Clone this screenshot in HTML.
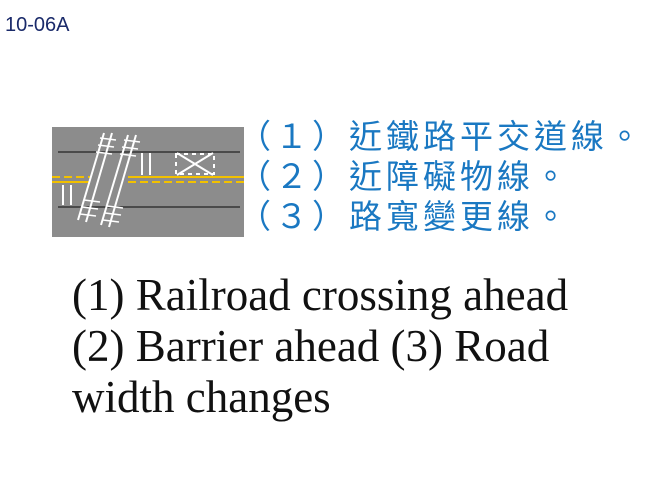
<!DOCTYPE html>
<html><head><meta charset="utf-8"><style>
body{margin:0;width:672px;height:504px;background:#fff;position:relative;overflow:hidden}
.t{position:absolute;left:5px;top:14px;font:20px "Liberation Sans",sans-serif;color:#1a2a6a}
.zh{position:absolute;left:238px;top:117px;font:33px/40px "Liberation Sans","Noto Sans CJK TC",sans-serif;color:#1a78c2;letter-spacing:4px;white-space:nowrap}
.en{position:absolute;left:72px;top:270px;font:45px/51px "Liberation Serif",serif;color:#111;white-space:nowrap}
</style></head><body>
<div class="t">10-06A</div>
<svg style="position:absolute;left:0;top:0" width="672" height="504">
<rect x="52" y="127" width="192" height="110" fill="#8c8c8c"/>
<line x1="58" y1="152" x2="240" y2="152" stroke="#222" stroke-width="1.2"/>
<line x1="58" y1="207" x2="240" y2="207" stroke="#222" stroke-width="1.2"/>
<line x1="52" y1="177" x2="90" y2="177" stroke="#f2c100" stroke-width="2" stroke-dasharray="8,4"/>
<line x1="52" y1="182" x2="90" y2="182" stroke="#f2c100" stroke-width="2"/>
<line x1="128" y1="177" x2="244" y2="177" stroke="#f2c100" stroke-width="2"/>
<line x1="128" y1="182" x2="244" y2="182" stroke="#f2c100" stroke-width="2" stroke-dasharray="8,4"/>
<g stroke="#fff" stroke-width="2">
<line x1="142" y1="153" x2="142" y2="175"/><line x1="150" y1="153" x2="150" y2="175"/>
<line x1="63" y1="185" x2="63" y2="205"/><line x1="71" y1="185" x2="71" y2="205"/>
<line x1="104" y1="133" x2="78" y2="220"/><line x1="112" y1="133" x2="86" y2="222"/>
<line x1="128" y1="135" x2="101" y2="225"/><line x1="136" y1="135" x2="109" y2="227"/>
</g>
<g stroke="#fff" stroke-width="1.5">
<line x1="100" y1="138" x2="116" y2="140"/><line x1="98" y1="145" x2="114" y2="147"/><line x1="96" y1="152" x2="112" y2="154"/>
<line x1="84" y1="200" x2="100" y2="202"/><line x1="82" y1="207" x2="98" y2="209"/><line x1="80" y1="214" x2="96" y2="216"/>
<line x1="124" y1="140" x2="140" y2="142"/><line x1="122" y1="147" x2="138" y2="149"/><line x1="120" y1="154" x2="136" y2="156"/>
<line x1="107" y1="206" x2="123" y2="208"/><line x1="105" y1="213" x2="121" y2="215"/><line x1="103" y1="220" x2="119" y2="222"/>
</g>
<g stroke="#fff" stroke-width="2" fill="none">
<line x1="177" y1="153" x2="213" y2="175"/><line x1="213" y1="153" x2="177" y2="175"/>
<rect x="176" y="154" width="38" height="20" stroke-dasharray="4,4"/>
</g>
</svg>
<div class="zh">（１）近鐵路平交道線。<br>（２）近障礙物線。<br>（３）路寬變更線。</div>
<div class="en">(1) Railroad crossing ahead<br>(2) Barrier ahead (3) Road<br>width changes</div>
</body></html>
